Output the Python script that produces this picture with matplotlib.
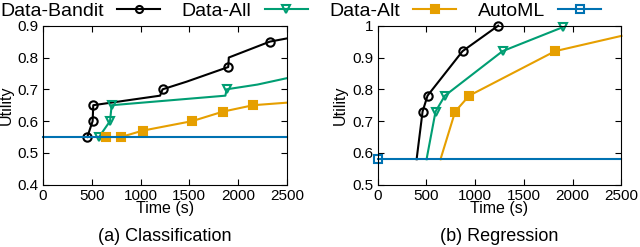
import matplotlib.pyplot as plt

plt.rcParams['font.family'] = ['Liberation Sans', 'DejaVu Sans']

# (a) Classification
cls_bandit_t = [454, 509, 515, 1200, 1226, 1472, 1899, 1905, 2326, 2500]
cls_bandit_u = [0.55, 0.60, 0.65, 0.68, 0.70, 0.724, 0.77, 0.80, 0.85, 0.86]
cls_bandit_marks = [0, 1, 2, 4, 6, 8]

cls_all_t = [574, 687, 704, 1870, 1882, 2200, 2500]
cls_all_u = [0.55, 0.60, 0.65, 0.68, 0.70, 0.715, 0.735]
cls_all_marks = [0, 1, 2, 4]

cls_alt_t = [646, 799, 1021, 1530, 1847, 2155, 2500]
cls_alt_u = [0.55, 0.55, 0.57, 0.60, 0.63, 0.65, 0.658]
cls_alt_marks = [0, 1, 2, 3, 4, 5]

cls_automl_t = [0, 2500]
cls_automl_u = [0.55, 0.55]

# (b) Regression
reg_bandit_t = [400, 461, 512, 871, 1236]
reg_bandit_u = [0.58, 0.73, 0.78, 0.92, 1.0]
reg_bandit_marks = [1, 2, 3, 4]

reg_all_t = [502, 594, 690, 1281, 1896]
reg_all_u = [0.58, 0.73, 0.78, 0.92, 0.995]
reg_all_marks = [1, 2, 3, 4]

reg_alt_t = [645, 795, 939, 1820, 2500]
reg_alt_u = [0.58, 0.73, 0.78, 0.92, 0.968]
reg_alt_marks = [1, 2, 3]

reg_automl_t = [0, 2500]
reg_automl_u = [0.58, 0.58]

black = '#000000'
green = '#009e73'
orange = '#e69f00'
blue = '#0072b2'

fig = plt.figure(figsize=(6.4, 2.47), dpi=100)
ax1 = fig.add_axes([0.0672, 0.2522, 0.381, 0.6437])
ax2 = fig.add_axes([0.590, 0.2522, 0.381, 0.6437])


def draw(ax, series):
    handles = []
    for t, u, marks, color, marker, face, label in series:
        h, = ax.plot(t, u, color=color, lw=1.5, marker=marker, markevery=marks,
                     markersize=6, markerfacecolor=face, markeredgewidth=1.5,
                     label=label, clip_on=False)
        handles.append(h)
    return handles


handles = draw(ax1, [
    (cls_bandit_t, cls_bandit_u, cls_bandit_marks, black, 'o', 'none', 'Data-Bandit'),
    (cls_all_t, cls_all_u, cls_all_marks, green, 'v', 'none', 'Data-All'),
    (cls_alt_t, cls_alt_u, cls_alt_marks, orange, 's', orange, 'Data-Alt'),
    (cls_automl_t, cls_automl_u, [], blue, 's', 'none', 'AutoML'),
])
draw(ax2, [
    (reg_bandit_t, reg_bandit_u, reg_bandit_marks, black, 'o', 'none', 'Data-Bandit'),
    (reg_all_t, reg_all_u, reg_all_marks, green, 'v', 'none', 'Data-All'),
    (reg_alt_t, reg_alt_u, reg_alt_marks, orange, 's', orange, 'Data-Alt'),
    (reg_automl_t, reg_automl_u, [0], blue, 's', 'none', 'AutoML'),
])

ax1.set_ylim(0.4, 0.9)
ax1.set_yticks([0.4, 0.5, 0.6, 0.7, 0.8, 0.9])
ax2.set_ylim(0.5, 1.0)
ax2.set_yticks([0.5, 0.6, 0.7, 0.8, 0.9, 1.0])
ax2.set_yticklabels(['0.5', '0.6', '0.7', '0.8', '0.9', '1'])

for ax, cap in [(ax1, '(a) Classification'), (ax2, '(b) Regression')]:
    ax.set_xlim(0, 2500)
    ax.set_xticks([0, 500, 1000, 1500, 2000, 2500])
    ax.tick_params(direction='in', top=True, right=True, labelsize=11,
                   length=4, pad=3)
    ax.set_xlabel('Time (s)', fontsize=11.5, labelpad=-1)
    ax.set_ylabel('Utility', fontsize=11.5, labelpad=3)
    pos = ax.get_position()
    fig.text((pos.x0 + pos.x1) / 2, 0.042, cap, ha='center', va='center',
             fontsize=13)

fig.legend(handles=handles, loc='center left', bbox_to_anchor=(-0.012, 0.955),
           ncol=4, frameon=False, markerfirst=False, fontsize=14,
           handlelength=2.2, columnspacing=1.1, handletextpad=0.7,
           borderaxespad=0, markerscale=0.85)

fig.savefig('out.png', dpi=100)
